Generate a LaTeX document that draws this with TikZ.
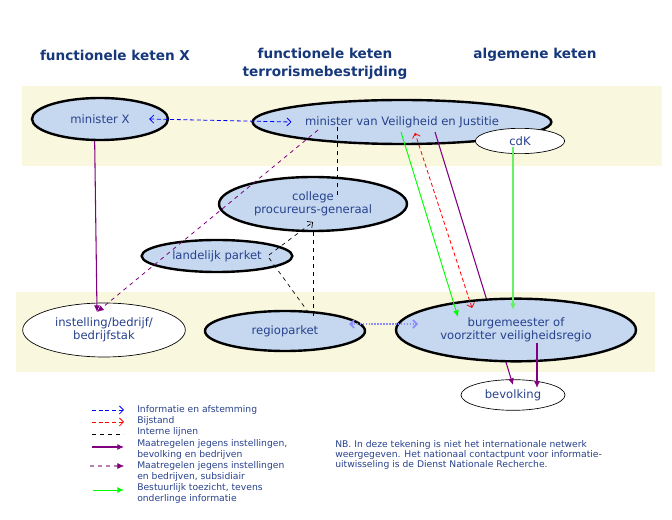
\documentclass[tikz,border=0pt]{standalone}
\usepackage{fontspec}
\setmainfont{DejaVu Sans}
\usepackage{xcolor}
\usepackage{tikz}
\usetikzlibrary{shapes.geometric, arrows.meta, calc}

\definecolor{bandgeel}{HTML}{F9F7DE}
\definecolor{vulblauw}{HTML}{C5D8F0}
\definecolor{tekstblauw}{HTML}{27418C}
\definecolor{kopblauw}{HTML}{16387A}
\definecolor{paars}{HTML}{800080}
\definecolor{lichtpaars}{HTML}{B47FB4}
\definecolor{groen}{HTML}{00FF00}
\definecolor{lichtgroen}{HTML}{66F066}
\definecolor{infoblauw}{HTML}{0000FF}
\definecolor{regioblauw}{HTML}{8C8CFF}

\pgfdeclarelayer{achter}
\pgfsetlayers{achter,main}

\newcommand{\orgfont}{\fontsize{8.7pt}{10pt}\selectfont}
\newcommand{\kopfont}{\fontsize{10.2pt}{13.5pt}\selectfont\bfseries}
\newcommand{\legfont}{\fontsize{6.9pt}{8.25pt}\selectfont}
\newcommand{\nbfont}{\fontsize{6.9pt}{7.5pt}\selectfont}

\tikzset{
  barb/.tip={Straight Barb[length=3pt,width=6pt]},
  vol/.tip={Latex[length=5pt,width=4.5pt]},
}

\begin{document}
\begin{tikzpicture}[x=0.75pt, y=-0.75pt,
  kop/.style={text=kopblauw, font=\kopfont, align=center},
  orgaan/.style={ellipse, draw=black, line width=1.8pt, fill=vulblauw, text=tekstblauw, font=\orgfont, align=center, inner sep=0pt},
  extern/.style={ellipse, draw=black, line width=0.5pt, fill=white, text=tekstblauw, font=\orgfont, align=center, inner sep=0pt},
  info/.style={infoblauw, densely dashed, line width=0.6pt},
  bijstand/.style={red, densely dashed, line width=0.6pt},
  intern/.style={black, dashed, line width=0.5pt},
  maatregel/.style={paars, line width=0.8pt, -vol},
  subsidiair/.style={paars, dashed, line width=0.6pt, -vol},
  toezicht/.style={groen, line width=0.7pt, -vol},
  legtekst/.style={text=tekstblauw, font=\legfont, anchor=west, inner sep=0pt, align=left}]

\useasboundingbox (0,0) rectangle (672,520);

%bands
\begin{pgfonlayer}{achter}
\fill[bandgeel] (22,86) rectangle (662,166);
\fill[bandgeel] (16,292) rectangle (655,372);
\end{pgfonlayer}

%headers
\node[kop] (kopX) at (115,55) {functionele keten X};
\node[kop] (kopT) at (325,64) {functionele keten\\terrorismebestrijding};
\node[kop] (kopA) at (535,55) {algemene keten};

%organen
\node[orgaan, minimum width=102pt, minimum height=31.5pt] (minX) at (100,119) {minister X};
\node[orgaan, minimum width=224pt, minimum height=33pt] (minVJ) at (402,122) {minister van Veiligheid en Justitie};
\node[extern, minimum width=67pt, minimum height=19pt] (cdK) at (520,141) {cdK};
\node[orgaan, minimum width=141pt, minimum height=40.5pt] (college) at (313,204) {college\\procureurs-generaal};
\node[orgaan, minimum width=113pt, minimum height=24pt] (landelijk) at (217,256) {landelijk parket};
\node[extern, minimum width=122pt, minimum height=40.5pt] (instelling) at (104,330) {instelling/bedrijf/\\bedrijfstak};
\node[orgaan, minimum width=120pt, minimum height=30pt] (regio) at (285,331) {regioparket};
\node[extern, minimum width=78pt, minimum height=23pt] (bevolking) at (513,395) {bevolking};

%runs under the burgemeester
\draw[maatregel] ($(minVJ.center)+(33,10)$) -- ($(bevolking.center)+(0,-10)$);

\node[orgaan, minimum width=180pt, minimum height=47pt] (burg) at (516,330) {burgemeester of\\voorzitter veiligheidsregio};

%verbindingen
\draw[info, barb-barb] ([xshift=-15pt]minX.east) -- ([xshift=30pt]minVJ.west);
\draw[maatregel] ([xshift=-4pt]minX.south) -- ($(instelling.center)+(-7,-18)$);
\draw[subsidiair] ($(minVJ.center)+(-84,8)$) -- ($(instelling.center)+(-7,-18)$);
\draw[intern] ($(minVJ.center)+(-65,5)$) -- ($(college.center)+(24,-6)$);
\draw[intern, -barb] ($(landelijk.center)+(52,-1)$) -- ($(college.center)+(0,18)$);
\draw[intern] ($(landelijk.center)+(52,2)$) -- ($(regio.center)+(26,-15)$);
\draw[intern] (college.south) -- ($(regio.center)+(28,-15)$);
\draw[regioblauw, densely dotted, line width=1.2pt, barb-barb] ($(regio.center)+(64,-7)$) -- ($(burg.center)+(-98,-6)$);
\draw[toezicht] ($(minVJ.center)+(-1,10)$) -- ($(burg.center)+(-58,-13)$);
\draw[bijstand, barb-barb] ($(burg.center)+(-44,-22)$) -- ($(minVJ.center)+(13,11)$);
\draw[maatregel] ($(burg.center)+(21,13)$) -- ($(bevolking.center)+(24,-7)$);
\draw[toezicht, lichtgroen, line width=1pt] ($(cdK.center)+(-7,6)$) -- ($(burg.center)+(-3,-20)$);

%legenda
\draw[info, -barb] (92,410) -- (124,410);
\node[legtekst] (leg1) at (137,410) {Informatie en afstemming};
\draw[bijstand, -barb] (92,422) -- (124,422);
\node[legtekst] (leg2) at (137,421) {Bijstand};
\draw[intern] (92,434) -- (124,434);
\node[legtekst] (leg3) at (137,432) {Interne lijnen};
\draw[maatregel] (92,447) -- (124,447);
\node[legtekst] (leg4) at (137,449.5) {Maatregelen jegens instellingen,\\bevolking en bedrijven};
\draw[lichtpaars, dashed, line width=0.8pt] (90,466) -- (118,466);
\draw[paars, -vol] (118,466) -- (124,466);
\node[legtekst] (leg5) at (137,471.5) {Maatregelen jegens instellingen\\en bedrijven, subsidiair};
\draw[toezicht] (93,490) -- (124,490);
\node[legtekst] (leg6) at (137,493.5) {Bestuurlijk toezicht, tevens\\onderlinge informatie};

\node[legtekst, font=\nbfont] (nb) at (335,455) {NB. In deze tekening is niet het internationale netwerk\\weergegeven. Het nationaal contactpunt voor informatie-\\uitwisseling is de Dienst Nationale Recherche.};

\end{tikzpicture}
\end{document}
